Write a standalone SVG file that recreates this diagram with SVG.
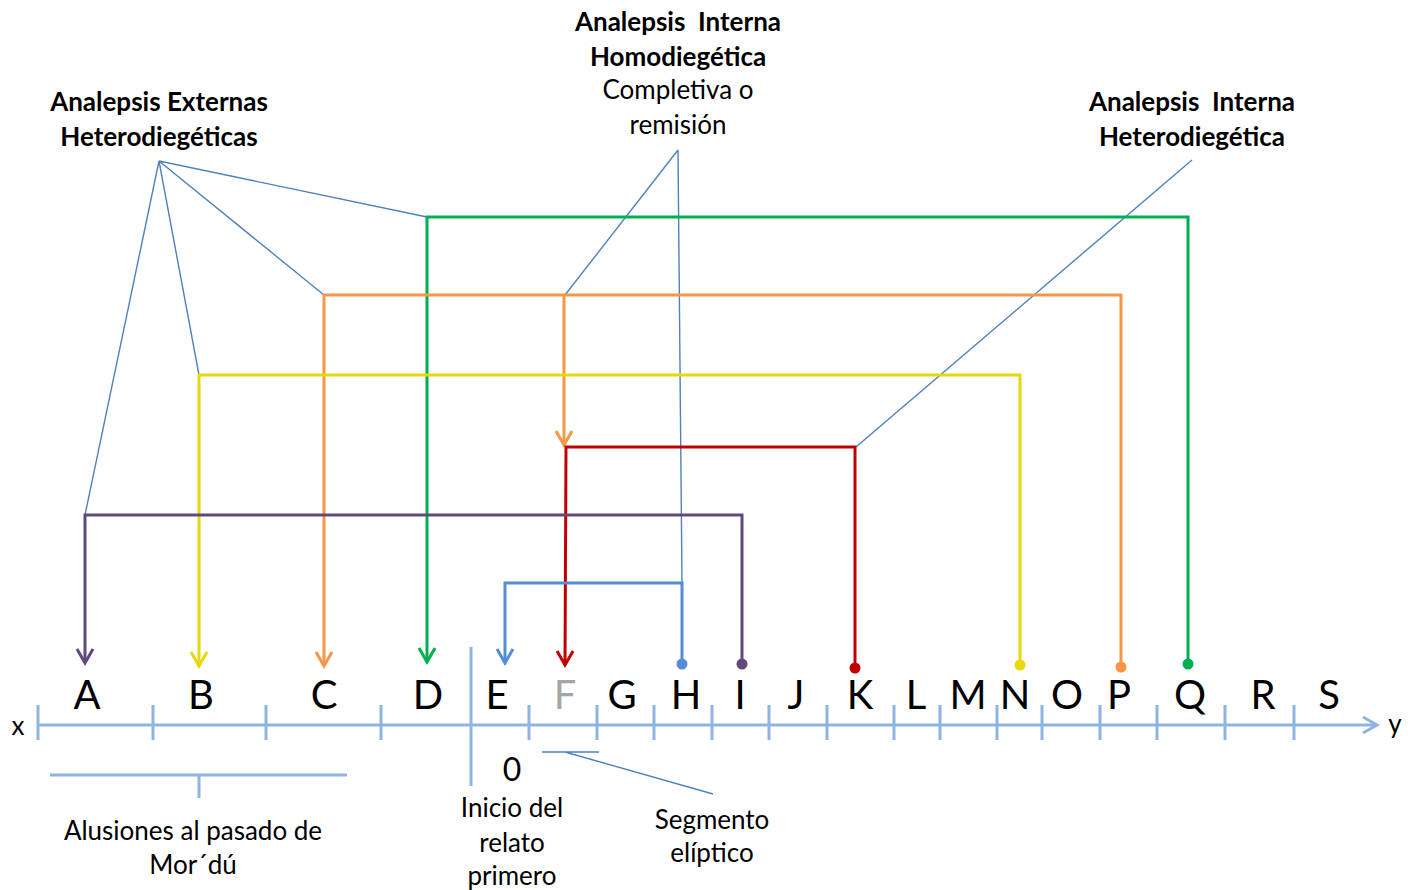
<svg xmlns="http://www.w3.org/2000/svg" width="1416" height="890" viewBox="0 0 1416 890">
  <style>
    text { font-family: Lato, "Open Sans", "Liberation Sans", sans-serif; fill: #000; }
    .lbl { font-size: 26px; text-anchor: middle; }
    .b { font-weight: bold; }
    .let { font-size: 40px; text-anchor: middle; }
    .axis { stroke: #8DB4E2; stroke-width: 3; fill: none; }
    .thin { stroke: #4F81BD; stroke-width: 1.4; fill: none; }
    .c { stroke-width: 3; fill: none; }
  </style>
  <defs>
    <marker id="arrPurple" markerUnits="userSpaceOnUse" markerWidth="20" markerHeight="20" viewBox="-16 -10 18 20" refX="0" refY="0" orient="auto"><path d="M-14,-8 L0,0 L-14,8" fill="none" stroke="#604A7B" stroke-width="3"/></marker>
    <marker id="arrYellow" markerUnits="userSpaceOnUse" markerWidth="20" markerHeight="20" viewBox="-16 -10 18 20" refX="0" refY="0" orient="auto"><path d="M-14,-8 L0,0 L-14,8" fill="none" stroke="#E6D80A" stroke-width="3"/></marker>
    <marker id="arrOrange" markerUnits="userSpaceOnUse" markerWidth="20" markerHeight="20" viewBox="-16 -10 18 20" refX="0" refY="0" orient="auto"><path d="M-14,-8 L0,0 L-14,8" fill="none" stroke="#F79646" stroke-width="3"/></marker>
    <marker id="arrGreen" markerUnits="userSpaceOnUse" markerWidth="20" markerHeight="20" viewBox="-16 -10 18 20" refX="0" refY="0" orient="auto"><path d="M-14,-8 L0,0 L-14,8" fill="none" stroke="#00B050" stroke-width="3"/></marker>
    <marker id="arrRed" markerUnits="userSpaceOnUse" markerWidth="20" markerHeight="20" viewBox="-16 -10 18 20" refX="0" refY="0" orient="auto"><path d="M-14,-8 L0,0 L-14,8" fill="none" stroke="#C00000" stroke-width="3"/></marker>
    <marker id="arrBlue" markerUnits="userSpaceOnUse" markerWidth="20" markerHeight="20" viewBox="-16 -10 18 20" refX="0" refY="0" orient="auto"><path d="M-14,-8 L0,0 L-14,8" fill="none" stroke="#558ED5" stroke-width="3"/></marker>
    <marker id="arrAxis" markerUnits="userSpaceOnUse" markerWidth="20" markerHeight="20" viewBox="-16 -10 18 20" refX="0" refY="0" orient="auto"><path d="M-14,-8 L0,0 L-14,8" fill="none" stroke="#8DB4E2" stroke-width="3"/></marker>
  </defs>

  <!-- time axis -->
  <g id="axis">
    <line class="axis" x1="38" y1="725" x2="1377" y2="725" marker-end="url(#arrAxis)"/>
    <path class="axis" d="M38,705V740 M153,705V740 M266,705V740 M381,705V740 M529,705V740 M597,705V740 M654,705V740 M712,705V740 M769,705V740 M827,705V740 M894,705V740 M940,705V740 M997,705V740 M1042,705V740 M1100,705V740 M1157,705V740 M1225,705V740 M1294,705V740"/>
    <line class="axis" x1="471" y1="647" x2="471" y2="786"/>
    <text x="18" y="735" style="font-size:26px" text-anchor="middle">x</text>
    <text x="1395" y="733" style="font-size:26px" text-anchor="middle">y</text>
  </g>

  <!-- episode letters -->
  <g id="letters">
    <text class="let" x="87" y="709">A</text>
    <text class="let" x="201" y="709">B</text>
    <text class="let" x="324" y="709">C</text>
    <text class="let" x="428" y="709">D</text>
    <text class="let" x="497" y="709">E</text>
    <text class="let" x="565" y="709" style="fill:#A6A6A6">F</text>
    <text class="let" x="622" y="709">G</text>
    <text class="let" x="686" y="709">H</text>
    <text class="let" x="740" y="709">I</text>
    <text class="let" x="796" y="709">J</text>
    <text class="let" x="860" y="709">K</text>
    <text class="let" x="916" y="709">L</text>
    <text class="let" x="968" y="709">M</text>
    <text class="let" x="1015" y="709">N</text>
    <text class="let" x="1067" y="709">O</text>
    <text class="let" x="1119" y="709">P</text>
    <text class="let" x="1190" y="709">Q</text>
    <text class="let" x="1263" y="709">R</text>
    <text class="let" x="1329" y="709">S</text>
  </g>

  <!-- headings -->
  <g id="externas">
    <text class="lbl b" x="159" y="111">Analepsis Externas</text>
    <text class="lbl b" x="159" y="146">Heterodiegéticas</text>
  </g>
  <g id="interna-homo">
    <text class="lbl b" x="678" y="31">Analepsis&#160; Interna</text>
    <text class="lbl b" x="678" y="66">Homodiegética</text>
    <text class="lbl" x="678" y="99">Completiva o</text>
    <text class="lbl" x="678" y="134">remisión</text>
  </g>
  <g id="interna-hetero">
    <text class="lbl b" x="1192" y="111">Analepsis&#160; Interna</text>
    <text class="lbl b" x="1192" y="146">Heterodiegética</text>
  </g>

  <!-- lower annotations -->
  <g id="alusiones">
    <path class="axis" d="M50,775H347 M199,775V798"/>
    <text class="lbl" x="193" y="840">Alusiones al pasado de</text>
    <text class="lbl" x="193" y="874">Mor´dú</text>
  </g>
  <g id="inicio">
    <text x="512" y="781" style="font-size:32px" text-anchor="middle">0</text>
    <text class="lbl" x="512" y="817">Inicio del</text>
    <text class="lbl" x="512" y="852">relato</text>
    <text class="lbl" x="512" y="885">primero</text>
  </g>
  <g id="segmento">
    <path class="thin" d="M542,752H599 M565,752L713,794"/>
    <text class="lbl" x="712" y="829">Segmento</text>
    <text class="lbl" x="712" y="862">elíptico</text>
  </g>

  <!-- connectors -->
  <g id="connectors">
    <path class="thin" d="M159,161L85,515 M159,161L199,375 M159,161L324,295 M159,161L427,217"/>
    <path class="thin" d="M678,150L565,295 M678,150L682,583"/>
    <path class="thin" d="M1192,160L856,447"/>

    <path class="c" stroke="#00B050" d="M1188,664V217H427V662" marker-end="url(#arrGreen)"/>
    <circle cx="1188" cy="664" r="5.5" fill="#00B050"/>

    <path class="c" stroke="#F79646" d="M1121,667V295H324V666" marker-end="url(#arrOrange)"/>
    <circle cx="1121" cy="667" r="5.5" fill="#F79646"/>
    <path class="c" stroke="#F79646" d="M564,295V445" marker-end="url(#arrOrange)"/>

    <path class="c" stroke="#E6D80A" d="M1020,665V375H199V666" marker-end="url(#arrYellow)"/>
    <circle cx="1020" cy="665" r="5.5" fill="#E6D80A"/>

    <path class="c" stroke="#C00000" d="M855,668V447H566L565,665" marker-end="url(#arrRed)"/>
    <circle cx="855" cy="668" r="5.5" fill="#C00000"/>

    <path class="c" stroke="#604A7B" d="M742,664V515H85V663" marker-end="url(#arrPurple)"/>
    <circle cx="742" cy="664" r="5.5" fill="#604A7B"/>

    <path class="c" stroke="#558ED5" d="M682,664V583H505V663" marker-end="url(#arrBlue)"/>
    <circle cx="682" cy="664" r="5.5" fill="#558ED5"/>
  </g>
</svg>
